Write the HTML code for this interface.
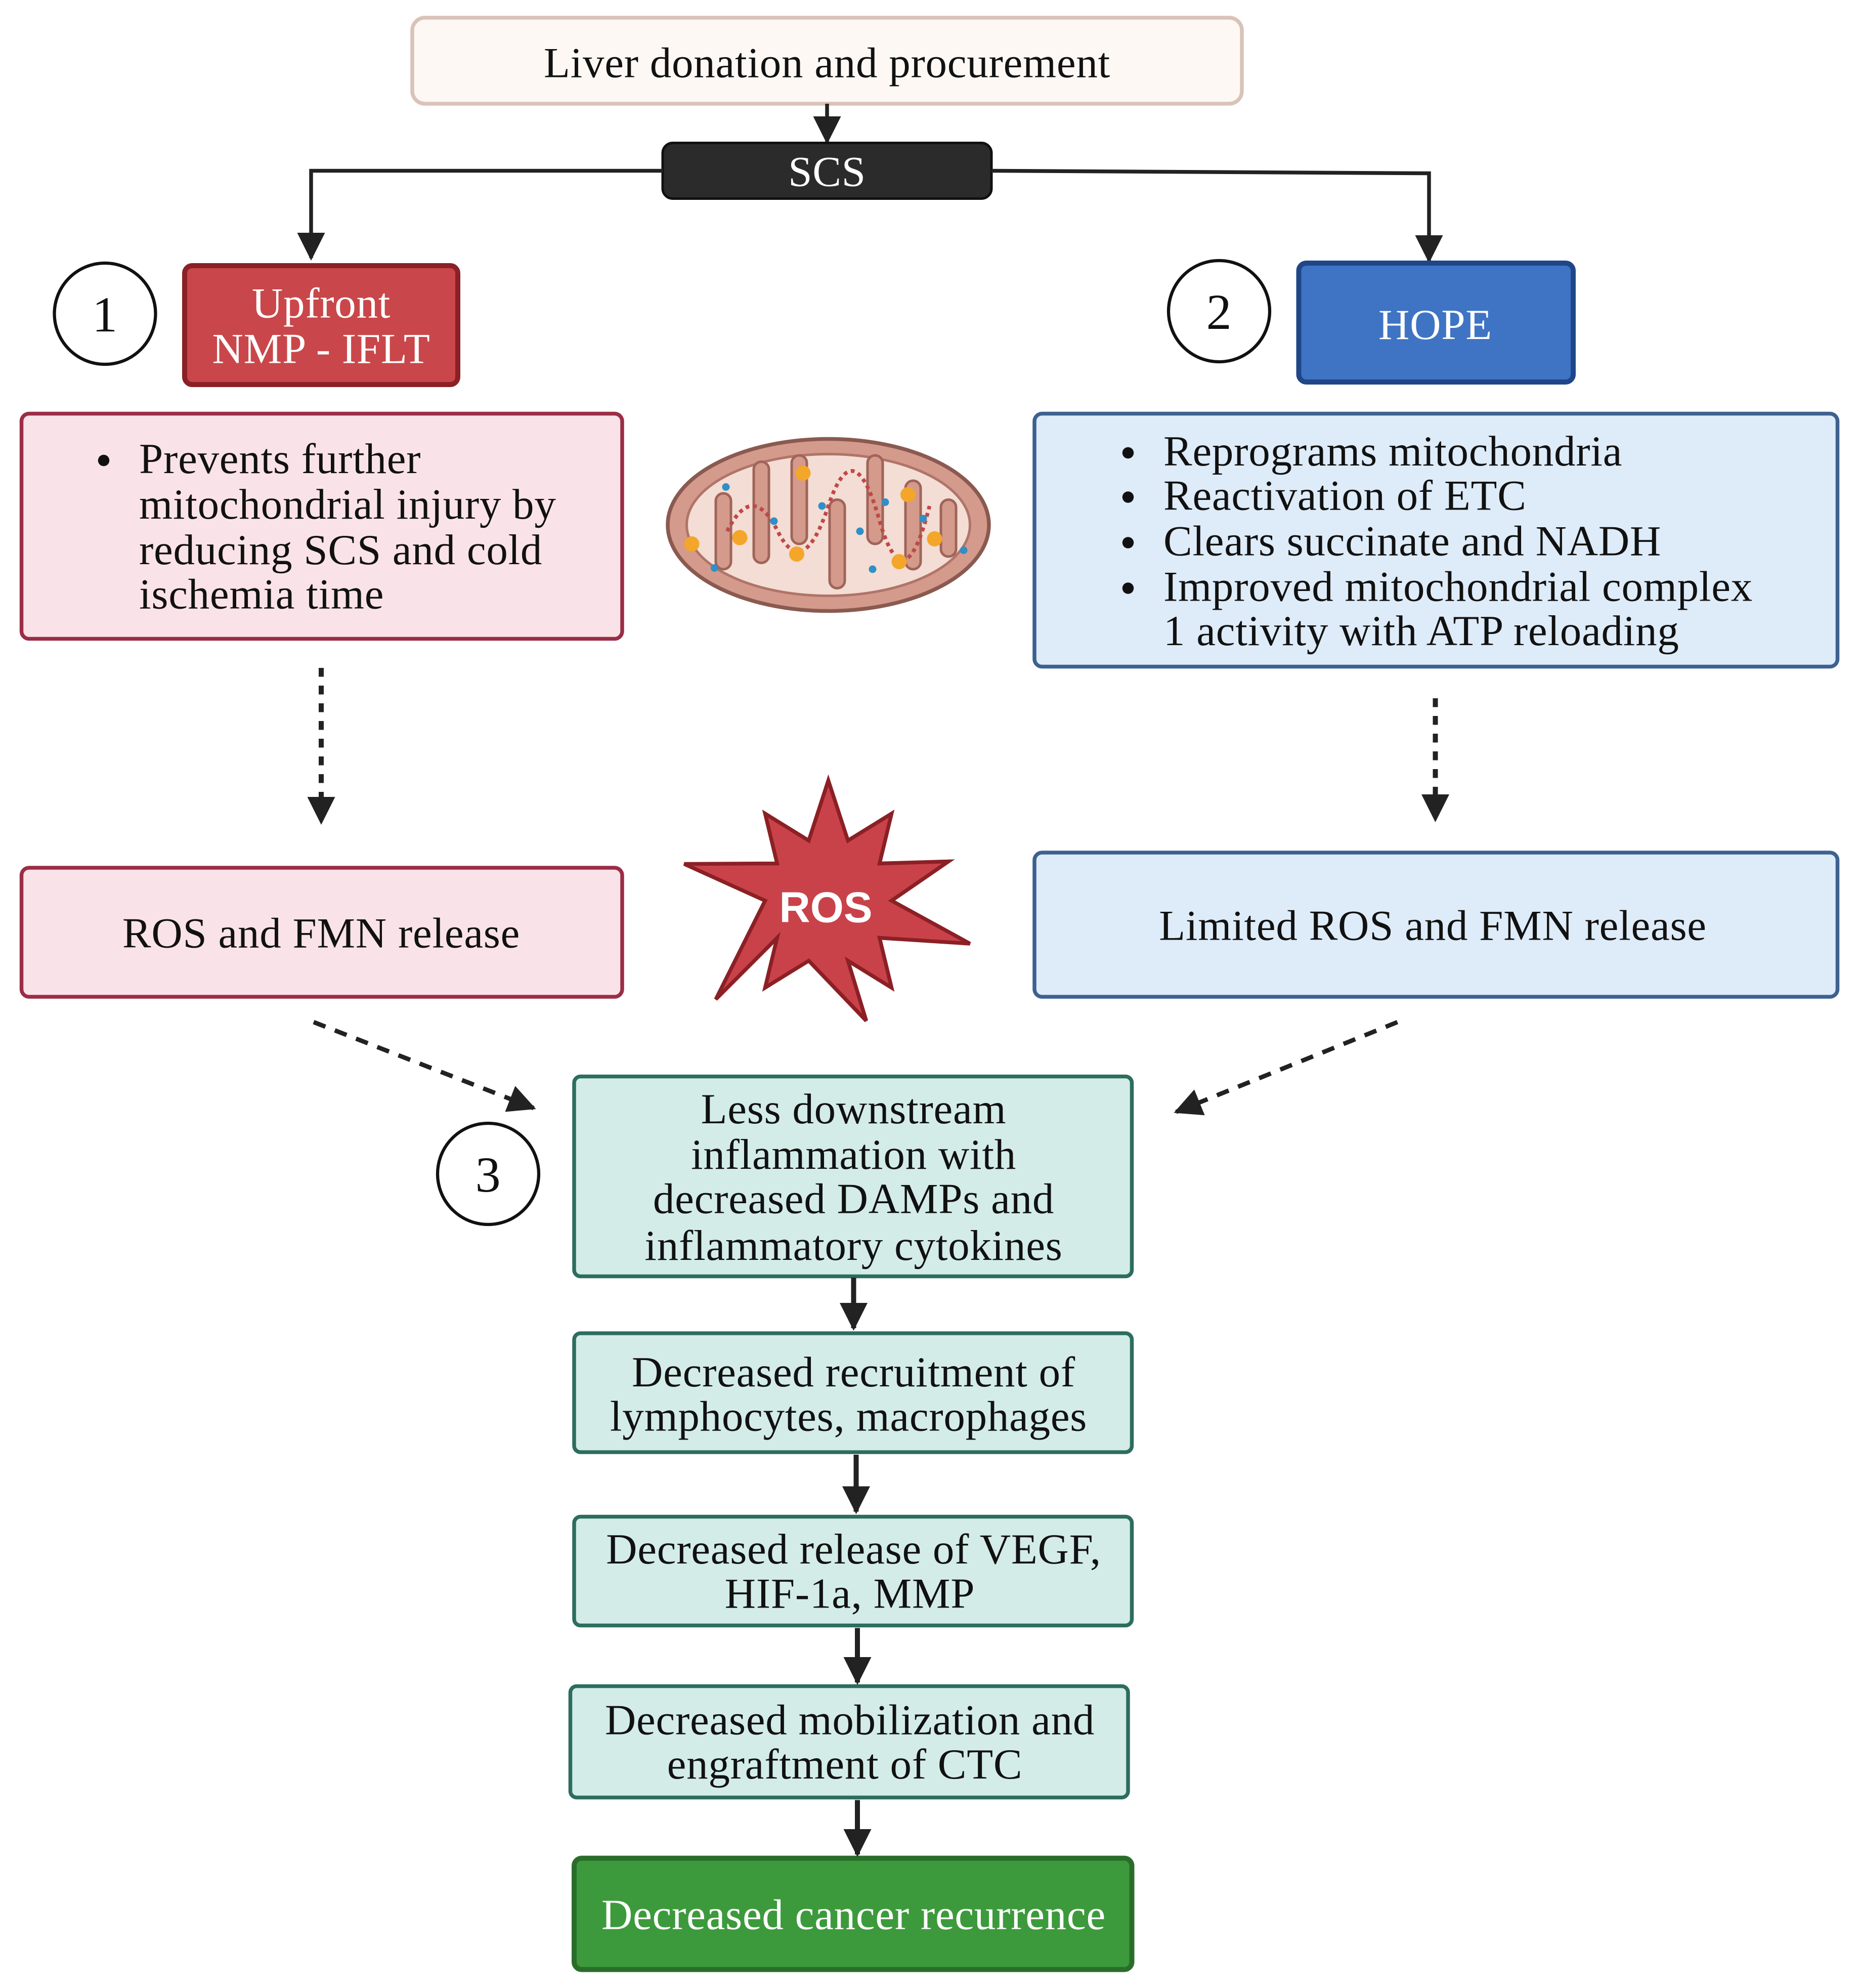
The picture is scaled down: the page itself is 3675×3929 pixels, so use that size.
<!DOCTYPE html>
<html><head><meta charset="utf-8"><style>html,body{margin:0;padding:0;background:#fff}svg{display:block}</style></head>
<body>
<svg xmlns="http://www.w3.org/2000/svg" width="3675" height="3929" viewBox="0 0 1470 1571.6">
<defs>
<marker id="ah2" markerWidth="22" markerHeight="22" refX="20" refY="11" orient="auto" markerUnits="userSpaceOnUse" viewBox="0 0 22 22">
<path d="M0,0 L22,11 L0,22 z" fill="#222"/></marker>
</defs>
<g font-family="'Liberation Serif', serif" font-size="34" letter-spacing="0.3" text-anchor="middle" fill="#111">
<rect x="0" y="0" width="1470" height="1572" fill="#fff"/>
<rect x="326" y="14" width="656" height="68" rx="10" fill="#fdf8f4" stroke="#d9c3b8" stroke-width="3"/>
<text x="654" y="61">Liver donation and procurement</text>
<line x1="654" y1="82" x2="654" y2="112" stroke="#222" stroke-width="3" marker-end="url(#ah2)"/>
<rect x="524" y="113" width="260" height="44" rx="8" fill="#2b2b2b" stroke="#111" stroke-width="2"/>
<text x="654" y="147" fill="#fff">SCS</text>
<polyline points="524,135 246,135 246,204" fill="none" stroke="#222" stroke-width="3" marker-end="url(#ah2)"/>
<polyline points="784,135 1130,137 1130,206" fill="none" stroke="#222" stroke-width="3" marker-end="url(#ah2)"/>
<circle cx="83" cy="248" r="40" fill="#fff" stroke="#111" stroke-width="2.5"/><text x="83" y="262" font-size="40">1</text>
<circle cx="964" cy="246" r="40" fill="#fff" stroke="#111" stroke-width="2.5"/><text x="964" y="260" font-size="40">2</text>
<circle cx="386" cy="928" r="40" fill="#fff" stroke="#111" stroke-width="2.5"/><text x="386" y="942" font-size="40">3</text>
<rect x="146" y="210" width="216" height="94" rx="6" fill="#c9474a" stroke="#8b2126" stroke-width="4"/>
<text x="254" y="251" fill="#fff">Upfront</text><text x="254" y="287" fill="#fff">NMP - IFLT</text>
<rect x="1027" y="208" width="217" height="94" rx="6" fill="#3f74c4" stroke="#1f4688" stroke-width="4"/>
<text x="1135" y="268" fill="#fff">HOPE</text>
<rect x="17" y="327" width="475" height="178" rx="6" fill="#fae3e8" stroke="#9b2d46" stroke-width="3"/>
<g text-anchor="start">
<circle cx="82" cy="364" r="4.5" fill="#111"/>
<text x="110" y="374">Prevents further</text>
<text x="110" y="410">mitochondrial injury by</text>
<text x="110" y="446">reducing SCS and cold</text>
<text x="110" y="481">ischemia time</text>
</g>
<rect x="818" y="327" width="635" height="200" rx="6" fill="#deebf8" stroke="#3d6190" stroke-width="3"/>
<g text-anchor="start">
<circle cx="892" cy="358" r="4.5" fill="#111"/><text x="920" y="368">Reprograms mitochondria</text>
<circle cx="892" cy="393" r="4.5" fill="#111"/><text x="920" y="403">Reactivation of ETC</text>
<circle cx="892" cy="429" r="4.5" fill="#111"/><text x="920" y="439">Clears succinate and NADH</text>
<circle cx="892" cy="465" r="4.5" fill="#111"/><text x="920" y="475">Improved mitochondrial complex</text>
<text x="920" y="510">1 activity with ATP reloading</text>
</g>
<ellipse cx="655" cy="415" rx="127" ry="68" fill="#d49a8c" stroke="#8a5a50" stroke-width="3"/>
<ellipse cx="655" cy="415" rx="112" ry="56" fill="#f3ddd4" stroke="#b07468" stroke-width="2"/>
<g fill="#d49a8c" stroke="#a06458" stroke-width="2">
<rect x="566" y="390" width="12" height="60" rx="6"/>
<rect x="596" y="365" width="12" height="80" rx="6"/>
<rect x="626" y="360" width="12" height="70" rx="6"/>
<rect x="656" y="395" width="12" height="70" rx="6"/>
<rect x="686" y="360" width="12" height="70" rx="6"/>
<rect x="716" y="380" width="12" height="70" rx="6"/>
<rect x="744" y="395" width="12" height="45" rx="6"/>
</g>
<path d="M575,420 q20,-40 40,0 t40,-20 t40,10 t40,-10" fill="none" stroke="#c04848" stroke-width="3" stroke-dasharray="3 3"/>
<g fill="#f4a62a"><circle cx="547" cy="430" r="6"/><circle cx="585" cy="425" r="6"/><circle cx="635" cy="374" r="6"/><circle cx="630" cy="438" r="6"/><circle cx="718" cy="391" r="6"/><circle cx="711" cy="444" r="6"/><circle cx="739" cy="426" r="6"/></g>
<g fill="#2f8fc6"><circle cx="565" cy="449" r="3"/><circle cx="574" cy="385" r="3"/><circle cx="612" cy="412" r="3"/><circle cx="650" cy="400" r="3"/><circle cx="680" cy="420" r="3"/><circle cx="700" cy="397" r="3"/><circle cx="730" cy="410" r="3"/><circle cx="762" cy="435" r="3"/><circle cx="690" cy="450" r="3"/></g>
<line x1="254" y1="528" x2="254" y2="650" stroke="#222" stroke-width="4" stroke-dasharray="7 7" marker-end="url(#ah2)"/>
<line x1="1135" y1="552" x2="1135" y2="648" stroke="#222" stroke-width="4" stroke-dasharray="7 7" marker-end="url(#ah2)"/>
<rect x="17" y="686" width="475" height="102" rx="6" fill="#fae3e8" stroke="#9b2d46" stroke-width="3"/>
<text x="254" y="749">ROS and FMN release</text>
<rect x="818" y="674" width="635" height="114" rx="6" fill="#deebf8" stroke="#3d6190" stroke-width="3"/>
<text x="1133" y="743">Limited ROS and FMN release</text>
<polygon points="655,617 670.5,664.5 705,643.2 695.5,682.6 750,681 705,712 767,746 695.5,741.4 705,780.8 670.5,759.5 685,807 639.5,759.5 605,780.8 614.5,741.4 566,790 605,712 541,683 614.5,682.6 605,643.2 639.5,664.5" fill="#c9424a" stroke="#8b2025" stroke-width="3"/>
<text x="653" y="729" fill="#fff" font-family="'Liberation Sans', sans-serif" font-weight="bold" font-size="34" letter-spacing="0">ROS</text>
<line x1="248" y1="808" x2="422" y2="876" stroke="#222" stroke-width="3.5" stroke-dasharray="10 8" marker-end="url(#ah2)"/>
<line x1="1105" y1="808" x2="930" y2="879" stroke="#222" stroke-width="3.5" stroke-dasharray="10 8" marker-end="url(#ah2)"/>
<g fill="#d3ece7" stroke="#2c6d5e" stroke-width="3">
<rect x="454" y="851" width="441" height="158" rx="5"/>
<rect x="454" y="1054" width="441" height="94" rx="5"/>
<rect x="454" y="1199" width="441" height="86" rx="5"/>
<rect x="451" y="1333" width="441" height="88" rx="5"/>
</g>
<text x="675" y="888">Less downstream</text>
<text x="675" y="924">inflammation with</text>
<text x="675" y="959">decreased DAMPs and</text>
<text x="675" y="996">inflammatory cytokines</text>
<text x="675" y="1096">Decreased recruitment of</text>
<text x="671" y="1131">lymphocytes, macrophages</text>
<text x="675" y="1236">Decreased release of VEGF,</text>
<text x="672" y="1271">HIF-1a, MMP</text>
<text x="672" y="1371">Decreased mobilization and</text>
<text x="668" y="1406">engraftment of CTC</text>
<rect x="454" y="1469" width="441" height="88" rx="6" fill="#3d9a3c" stroke="#2a6d2a" stroke-width="4"/>
<text x="675" y="1525" fill="#fff">Decreased cancer recurrence</text>
<g stroke="#222" stroke-width="4">
<line x1="675" y1="1010" x2="675" y2="1050" marker-end="url(#ah2)"/>
<line x1="677" y1="1150" x2="677" y2="1195" marker-end="url(#ah2)"/>
<line x1="678" y1="1287" x2="678" y2="1330" marker-end="url(#ah2)"/>
<line x1="678" y1="1423" x2="678" y2="1466" marker-end="url(#ah2)"/>
</g>
</g>
</svg>
</body></html>
